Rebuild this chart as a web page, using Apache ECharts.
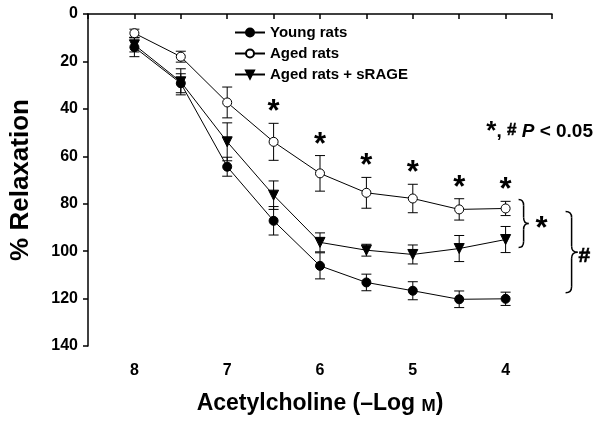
<!DOCTYPE html>
<html>
<head>
<meta charset="utf-8">
<script src="https://cdn.jsdelivr.net/npm/echarts@6/dist/echarts.min.js"></script>
<style>
  html, body { margin: 0; background: #fff; }
  #main { width: 602px; height: 423px; }
</style>
</head>
<body>
<div id="main"></div>
<script>
// acetylcholine concentration (-log M)
const doses = [8, 7.5, 7, 6.5, 6, 5.5, 5, 4.5, 4]

// % relaxation, mean and SEM
const youngMean = [14, 29.2, 64.4, 87.2, 106.2, 113.2, 116.7, 120.3, 120.1]
const youngErr = [4, 4, 4, 6, 5.5, 3.5, 3.8, 3.5, 2.8]
const agedMean = [8.1, 18, 37.3, 53.9, 67.2, 75.4, 77.8, 82.4, 82]
const agedErr = [1.7, 2.3, 6.5, 7.8, 7.5, 6.5, 6, 4.5, 3]
const srageMean = [13, 28.6, 53.9, 76.4, 96.3, 99.6, 101.4, 98.9, 95.1]
const srageErr = [3, 5.5, 8, 6, 4, 2.5, 4, 5.5, 5.5]

// doses where aged differs from young (*)
const sigDoses = [6.5, 6, 5.5, 5, 4.5, 4]

const yTicks = [0, 20, 40, 60, 80, 100, 120, 140]
const xTicks = [8, 7, 6, 5, 4]

const FONT = 'Liberation Sans, Arial, sans-serif'

const chart = echarts.init(document.getElementById('main'))

function errorBars (name, mean, err) {
  return {
    type: 'custom',
    name: name + ' err',
    silent: true,
    z: 1,
    data: doses.map((d, i) => [d, mean[i] - err[i], mean[i] + err[i]]),
    encode: { x: 0, y: [1, 2] },
    renderItem (params, api) {
      const top = api.coord([api.value(0), api.value(1)])
      const bot = api.coord([api.value(0), api.value(2)])
      const w = 5
      const st = { stroke: '#000', lineWidth: 1 }
      return {
        type: 'group',
        children: [
          { type: 'line', shape: { x1: top[0], y1: top[1], x2: bot[0], y2: bot[1] }, style: st },
          { type: 'line', shape: { x1: top[0] - w, y1: top[1], x2: top[0] + w, y2: top[1] }, style: st },
          { type: 'line', shape: { x1: bot[0] - w, y1: bot[1], x2: bot[0] + w, y2: bot[1] }, style: st }
        ]
      }
    }
  }
}

function lineSeries (name, mean, symbol, fill, size, rotate) {
  return {
    type: 'line',
    name: name,
    data: doses.map((d, i) => [d, mean[i]]),
    symbol: symbol,
    symbolSize: size,
    symbolRotate: rotate || 0,
    showAllSymbol: true,
    z: 3,
    lineStyle: { color: '#000', width: 1 },
    itemStyle: { color: fill, borderColor: '#000', borderWidth: 1 },
    emphasis: { disabled: true }
  }
}

const sigData = sigDoses.map(d => {
  const i = doses.indexOf(d)
  return [d, agedMean[i] - agedErr[i]]
})

const option = {
  animation: false,
  backgroundColor: '#fff',
  grid: { left: 81, right: 50, top: 14, bottom: 77 },
  legend: {
    data: ['Young rats', 'Aged rats', 'Aged rats + sRAGE'],
    orient: 'vertical',
    left: 234,
    top: 25,
    padding: 0,
    itemWidth: 30,
    itemHeight: 10,
    itemGap: 6,
    textStyle: { fontFamily: FONT, fontWeight: 'bold', fontSize: 15, color: '#000' }
  },
  xAxis: {
    type: 'value',
    inverse: true,
    min: 3.5,
    max: 8.5,
    interval: 0.5,
    name: 'Acetylcholine (\u2013Log {sc|M})',
    nameLocation: 'middle',
    nameGap: 46,
    nameTextStyle: {
      fontFamily: FONT, fontWeight: 'bold', fontSize: 23, color: '#000',
      rich: { sc: { fontFamily: FONT, fontWeight: 'bold', fontSize: 17, color: '#000', verticalAlign: 'bottom', padding: [5, 0, 0, 0] } }
    },
    axisLine: { lineStyle: { color: '#000', width: 1.5 } },
    axisTick: { show: true, inside: false, length: 5, lineStyle: { color: '#000', width: 1.5 } },
    axisLabel: {
      margin: 17,
      fontFamily: FONT, fontWeight: 'bold', fontSize: 16, color: '#000',
      formatter: v => (xTicks.indexOf(v) >= 0 ? String(v) : '')
    },
    splitLine: { show: false }
  },
  yAxis: {
    type: 'value',
    inverse: true,
    min: yTicks[0],
    max: yTicks[yTicks.length - 1],
    interval: 20,
    name: '% Relaxation',
    nameLocation: 'middle',
    nameGap: 54,
    nameTextStyle: { fontFamily: FONT, fontWeight: 'bold', fontSize: 26, color: '#000' },
    axisLine: { show: true, lineStyle: { color: '#000', width: 1.5 } },
    axisTick: { show: true, length: 5, lineStyle: { color: '#000', width: 1.5 } },
    axisLabel: { margin: 10, fontFamily: FONT, fontWeight: 'bold', fontSize: 16, color: '#000' },
    splitLine: { show: false }
  },
  series: [
    errorBars('Young rats', youngMean, youngErr),
    errorBars('Aged rats', agedMean, agedErr),
    errorBars('Aged rats + sRAGE', srageMean, srageErr),
    lineSeries('Young rats', youngMean, 'circle', '#000', 9),
    lineSeries('Aged rats', agedMean, 'circle', '#fff', 9),
    lineSeries('Aged rats + sRAGE', srageMean, 'triangle', '#000', 10, 180),
    {
      // significance asterisks above the aged error bars
      type: 'custom',
      name: 'sig',
      silent: true,
      z: 4,
      data: sigData,
      encode: { x: 0, y: 1 },
      renderItem (params, api) {
        const p = api.coord([api.value(0), api.value(1)])
        return {
          type: 'text',
          x: p[0],
          y: p[1] + 5,
          style: {
            text: '*', fill: '#000', align: 'center', verticalAlign: 'bottom',
            fontFamily: FONT, fontWeight: 'bold', fontSize: 31
          }
        }
      }
    }
  ]
}

chart.setOption(option)

// curly brackets at the right end, placed from the last data points
function brace (x, y0, y1, w) {
  const ym = (y0 + y1) / 2
  const r = Math.min(6, (y1 - y0) / 4)
  const st = { stroke: '#000', lineWidth: 1.5, fill: 'none' }
  return {
    type: 'group',
    children: [
      { type: 'bezierCurve', shape: { x1: x, y1: y0, cpx1: x + w, cpy1: y0, x2: x + w, y2: y0 + r }, style: st },
      { type: 'line', shape: { x1: x + w, y1: y0 + r, x2: x + w, y2: ym - r }, style: st },
      { type: 'bezierCurve', shape: { x1: x + w, y1: ym - r, cpx1: x + w, cpy1: ym, x2: x + 2 * w, y2: ym }, style: st },
      { type: 'bezierCurve', shape: { x1: x + 2 * w, y1: ym, cpx1: x + w, cpy1: ym, x2: x + w, y2: ym + r }, style: st },
      { type: 'line', shape: { x1: x + w, y1: ym + r, x2: x + w, y2: y1 - r }, style: st },
      { type: 'bezierCurve', shape: { x1: x + w, y1: y1 - r, cpx1: x + w, cpy1: y1, x2: x, y2: y1 }, style: st }
    ]
  }
}

const last = doses.length - 1
const pAged = chart.convertToPixel({ gridIndex: 0 }, [doses[last], agedMean[last]])
const pSrage = chart.convertToPixel({ gridIndex: 0 }, [doses[last], srageMean[last]])
const pYoung = chart.convertToPixel({ gridIndex: 0 }, [doses[last], youngMean[last]])

const b1x = pAged[0] + 13
const b1y0 = pAged[1] - 9
const b1y1 = pSrage[1] + 8
const b2x = pAged[0] + 60
const b2y0 = pSrage[1] - 28
const b2y1 = pYoung[1] - 6

chart.setOption({
  graphic: [
    brace(b1x, b1y0, b1y1, 5),
    brace(b2x, b2y0, b2y1, 6),
    { type: 'text', x: b1x + 17, y: (b1y0 + b1y1) / 2 + 6, style: { text: '*', fontFamily: FONT, fontWeight: 'bold', fontSize: 31, fill: '#000', align: 'left', verticalAlign: 'middle' } },
    { type: 'text', x: b2x + 13, y: (b2y0 + b2y1) / 2 + 4, style: { text: '#', fontFamily: FONT, fontWeight: 'bold', fontSize: 21, fill: '#000', stroke: '#000', lineWidth: 0.6, align: 'left', verticalAlign: 'middle' } },
    {
      type: 'text',
      right: 9,
      top: 119,
      style: {
        text: '{s|*}{c|, }{h|#}{c| }{i|P}{c| < 0.05}',
        rich: {
          s: { fontFamily: FONT, fontWeight: 'bold', fontSize: 26, fill: '#000', verticalAlign: 'top' },
          c: { fontFamily: FONT, fontWeight: 'bold', fontSize: 19, fill: '#000' },
          h: { fontFamily: FONT, fontWeight: 'bold', fontSize: 17, fill: '#000', stroke: '#000', lineWidth: 0.5, padding: [0, 0, 4, 0] },
          i: { fontFamily: FONT, fontWeight: 'bold', fontStyle: 'italic', fontSize: 19, fill: '#000' }
        }
      }
    }
  ]
})
</script>
</body>
</html>
